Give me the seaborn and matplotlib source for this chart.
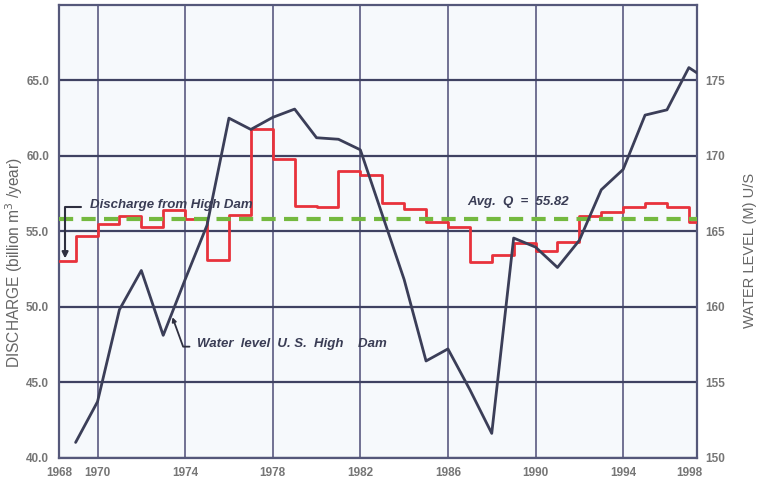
import matplotlib
matplotlib.use("Agg")
import matplotlib.pyplot as plt
import seaborn as sns
import pandas as pd

# Annual discharge released from the High Dam (billion m3/year), one value per year
discharge_years = [1968, 1969, 1970, 1971, 1972, 1973, 1974, 1975, 1976, 1977,
                   1978, 1979, 1980, 1981, 1982, 1983, 1984, 1985, 1986, 1987,
                   1988, 1989, 1990, 1991, 1992, 1993, 1994, 1995, 1996, 1997]
discharge = [53.0, 54.7, 55.45, 56.0, 55.3, 56.4, 55.8, 53.1, 56.1, 61.75,
             59.8, 56.7, 56.6, 59.0, 58.7, 56.9, 56.45, 55.6, 55.25, 52.95,
             53.45, 54.2, 53.7, 54.3, 56.0, 56.25, 56.6, 56.9, 56.6, 55.6]
avg_discharge = 55.82

# Reservoir water level upstream of the High Dam (m)
level_years = [1969, 1970, 1971, 1972, 1973, 1974, 1975, 1976, 1977, 1978,
               1979, 1980, 1981, 1982, 1983, 1984, 1985, 1986, 1987, 1988,
               1989, 1990, 1991, 1992, 1993, 1994, 1995, 1996, 1997, 1998]
water_level = [151.0, 153.7, 159.8, 162.4, 158.1, 161.8, 165.4, 172.5, 171.75, 172.55,
               173.1, 171.2, 171.1, 170.4, 166.1, 161.8, 156.4, 157.2, 154.5, 151.6,
               164.55, 163.95, 162.6, 164.4, 167.75, 169.1, 172.7, 173.05, 175.85, 174.9]

# Axis ticks
grid_years = [1970, 1974, 1978, 1982, 1986, 1990, 1994]
edge_ticks = [1968.26, 1997.0]
edge_labels = ["1968", "1998"]
left_ticks = [40, 45, 50, 55, 60, 65]
right_ticks = [150, 155, 160, 165, 170, 175]

sns.set_theme(style="white")
plt.rcParams["font.family"] = ["Liberation Sans", "DejaVu Sans"]

NAVY = "#3b3e58"
GRID_H = "#3f4262"
GRID_V = "#66668a"
RED = "#e8323c"
GREEN = "#74b93f"
TICK = "#767676"

X_LIM = (1968.24, 1997.37)

fig = plt.figure(figsize=(7.57, 4.82), dpi=100)
fig.patch.set_facecolor("white")
ax = fig.add_axes([0.0779, 0.0508, 0.8428, 0.9388])
ax.set_facecolor("#f6f9fc")

# Discharge as annual steps (each year held until the next)
step_df = pd.DataFrame({"year": discharge_years + [discharge_years[-1] + 1],
                        "q": discharge + [discharge[-1]]})
sns.lineplot(data=step_df, x="year", y="q", ax=ax, drawstyle="steps-post",
             color=RED, lw=2.0, zorder=4)

# Long-term average discharge
ax.axhline(avg_discharge, color=GREEN, lw=3.0, ls=(0, (3.4, 2.0)), zorder=5)

ax.set_xlim(*X_LIM)
ax.set_ylim(40, 70)
ax.set_xticks(grid_years, [str(y) for y in grid_years])
ax.set_xticks(edge_ticks, edge_labels, minor=True)
ax.set_yticks(left_ticks, [f"{v:.1f}" for v in left_ticks])
ax.grid(axis="x", which="major", color=GRID_V, lw=1.3, zorder=1)
ax.grid(axis="y", which="major", color=GRID_H, lw=1.6, zorder=1)
ax.set_axisbelow(True)
ax.tick_params(axis="both", which="both", length=0, colors=TICK, labelsize=8.5)
ax.tick_params(axis="x", which="both", pad=7)
ax.tick_params(axis="y", pad=7)
for lab in ax.get_xticklabels(which="both") + ax.get_yticklabels():
    lab.set_fontweight("bold")
ax.set_xlabel("")
ax.set_ylabel("")
for s in ax.spines.values():
    s.set_color("#55587a")
    s.set_linewidth(1.6)

# Water level on the secondary axis
ax2 = ax.twinx()
lvl_df = pd.DataFrame({"year": level_years, "level": water_level})
sns.lineplot(data=lvl_df, x="year", y="level", ax=ax2, color=NAVY, lw=2.0, zorder=6)
ax2.set_ylim(150, 180)
ax2.set_xlim(*X_LIM)
ax2.set_yticks(right_ticks, [str(v) for v in right_ticks])
ax2.tick_params(axis="y", length=0, colors=TICK, labelsize=8.5, pad=6)
for lab in ax2.get_yticklabels():
    lab.set_fontweight("bold")
ax2.set_ylabel("")
ax2.grid(False)
for s in ax2.spines.values():
    s.set_visible(False)

# Axis titles
fig.text(14 / 757, 1 - 262 / 482, "DISCHARGE (billion m$^3$ /year)", rotation=90,
         ha="center", va="center", color="#666666", fontsize=11.2)
fig.text(750 / 757, 1 - 250 / 482, "WATER LEVEL (M) U/S", rotation=90,
         ha="center", va="center", color="#666666", fontsize=10.5)

# Annotations
note = dict(fontsize=9.5, fontweight="bold", fontstyle="italic", color="#3a3d55")
ax.text(1969.66, 56.74, "Discharge from High Dam", ha="left", va="center", zorder=7, **note)
ax.annotate("", xy=(1968.52, 53.2), xytext=(1969.25, 56.62),
            arrowprops=dict(arrowstyle="-|>", connectionstyle="angle,angleA=0,angleB=90,rad=0",
                            color="#2e2f3f", lw=1.5, shrinkA=0, shrinkB=0, mutation_scale=9),
            zorder=7)
ax.text(1986.86, 56.94, "Avg.  Q  =  55.82", ha="left", va="center", zorder=7, **note)
ax.text(1974.54, 47.55, "Water  level  U. S.  High    Dam", ha="left", va="center",
        zorder=7, **note)
ax.annotate("", xy=(1973.42, 49.3), xytext=(1974.2, 47.35),
            arrowprops=dict(arrowstyle="-|>", connectionstyle="angle,angleA=180,angleB=110,rad=0",
                            color="#2e2f3f", lw=1.3, shrinkA=0, shrinkB=0, mutation_scale=6),
            zorder=7)

fig.savefig("out.png", dpi=100)
